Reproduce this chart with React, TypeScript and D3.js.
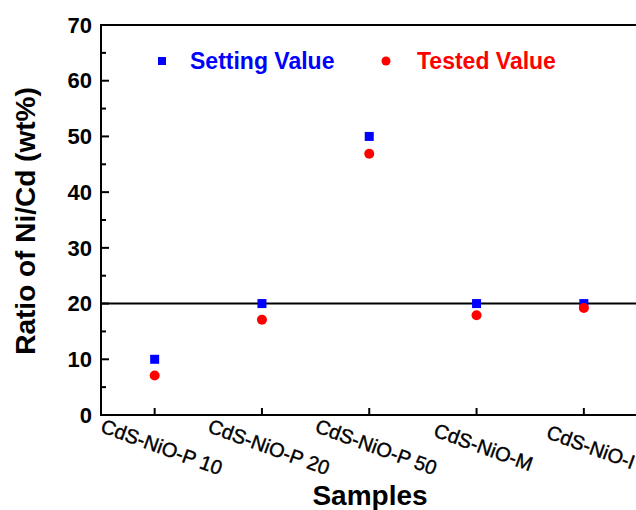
import React, { useEffect, useRef } from "react";
import * as d3 from "d3";

const samples = ["CdS-NiO-P 10", "CdS-NiO-P 20", "CdS-NiO-P 50", "CdS-NiO-M", "CdS-NiO-I"];
const settingValue = [10, 20, 50, 20, 20];
const testedValue = [7.1, 17.1, 46.9, 17.9, 19.2];
const yMajorTicks = [0, 10, 20, 30, 40, 50, 60, 70];
const yMinorTicks = [5, 15, 25, 35, 45, 55, 65];
const refLine = 20;

const W = 636;
const H = 510;
const font = "Arial, 'Liberation Sans', sans-serif";

export default function App() {
  const ref = useRef<SVGSVGElement>(null);

  useEffect(() => {
    const svg = d3.select(ref.current);
    svg.selectAll("*").remove();

    const left = 101;
    const x = d3.scaleBand().domain(samples).range([left, left + 5 * 107.3]).padding(0);
    const y = d3.scaleLinear().domain([0, 70]).range([415, 25]);
    const cx = (s: string) => (x(s) as number) + x.bandwidth() / 2;

    // frame
    svg.append("line").attr("x1", left).attr("x2", W).attr("y1", y(70)).attr("y2", y(70))
      .attr("stroke", "#000").attr("stroke-width", 2);
    svg.append("line").attr("x1", left).attr("x2", W).attr("y1", y(0)).attr("y2", y(0))
      .attr("stroke", "#000").attr("stroke-width", 2);
    svg.append("line").attr("x1", left).attr("x2", left).attr("y1", y(0) + 1).attr("y2", y(70) - 1)
      .attr("stroke", "#000").attr("stroke-width", 2);

    // reference line
    svg.append("line").attr("x1", left).attr("x2", W).attr("y1", y(refLine)).attr("y2", y(refLine))
      .attr("stroke", "#000").attr("stroke-width", 2);

    // y ticks
    const yt = svg.append("g");
    yt.selectAll("line.maj").data(yMajorTicks).enter().append("line")
      .attr("x1", left).attr("x2", left + 8).attr("y1", (d) => y(d)).attr("y2", (d) => y(d))
      .attr("stroke", "#000").attr("stroke-width", 2);
    yt.selectAll("line.min").data(yMinorTicks).enter().append("line")
      .attr("x1", left).attr("x2", left + 5).attr("y1", (d) => y(d)).attr("y2", (d) => y(d))
      .attr("stroke", "#000").attr("stroke-width", 2);
    yt.selectAll("text").data(yMajorTicks).enter().append("text")
      .attr("x", left - 9).attr("y", (d) => y(d)).attr("dy", "0.35em")
      .attr("text-anchor", "end").attr("font-family", font).attr("font-weight", "bold")
      .attr("font-size", 22).attr("fill", "#000").text((d) => String(d));

    // x ticks
    const xt = svg.append("g");
    xt.selectAll("line").data(samples).enter().append("line")
      .attr("x1", (d) => cx(d)).attr("x2", (d) => cx(d)).attr("y1", y(0)).attr("y2", y(0) - 7)
      .attr("stroke", "#000").attr("stroke-width", 2);
    xt.selectAll("text").data(samples).enter().append("text")
      .attr("transform", (d) => `translate(${cx(d) + 7},${447}) rotate(20)`)
      .attr("text-anchor", "middle").attr("dy", "0.35em")
      .attr("font-family", font).attr("font-size", 20)
      .attr("fill", "#000").attr("stroke", "#000").attr("stroke-width", 0.4)
      .text((d) => d);

    // axis titles
    svg.append("text").attr("x", 370).attr("y", 505).attr("text-anchor", "middle")
      .attr("font-family", font).attr("font-weight", "bold").attr("font-size", 28).text("Samples");
    svg.append("text").attr("transform", `translate(35,221) rotate(-90)`).attr("text-anchor", "middle")
      .attr("font-family", font).attr("font-weight", "bold").attr("font-size", 28)
      .text("Ratio of Ni/Cd (wt%)");

    // data
    const sq = 9;
    svg.append("g").selectAll("rect").data(samples).enter().append("rect")
      .attr("x", (d) => cx(d) - sq / 2).attr("y", (d, i) => y(settingValue[i]) - sq / 2)
      .attr("width", sq).attr("height", sq).attr("fill", "#0000ff");
    svg.append("g").selectAll("circle").data(samples).enter().append("circle")
      .attr("cx", (d) => cx(d)).attr("cy", (d, i) => y(testedValue[i]))
      .attr("r", 5).attr("fill", "#ff0000");

    // legend
    svg.append("rect").attr("x", 162 - 4).attr("y", 61 - 4).attr("width", 8).attr("height", 8).attr("fill", "#0000ff");
    svg.append("text").attr("x", 190).attr("y", 61).attr("dy", "0.35em")
      .attr("font-family", font).attr("font-weight", "bold").attr("font-size", 23)
      .attr("fill", "#0000ff").text("Setting Value");
    svg.append("circle").attr("cx", 386).attr("cy", 61).attr("r", 4.5).attr("fill", "#ff0000");
    svg.append("text").attr("x", 417).attr("y", 61).attr("dy", "0.35em")
      .attr("font-family", font).attr("font-weight", "bold").attr("font-size", 23)
      .attr("fill", "#ff0000").text("Tested Value");
  }, []);

  return (
    <svg
      ref={ref}
      width={W}
      height={H}
      style={{ position: "absolute", left: 0, top: 0, background: "#fff", display: "block" }}
    />
  );
}
